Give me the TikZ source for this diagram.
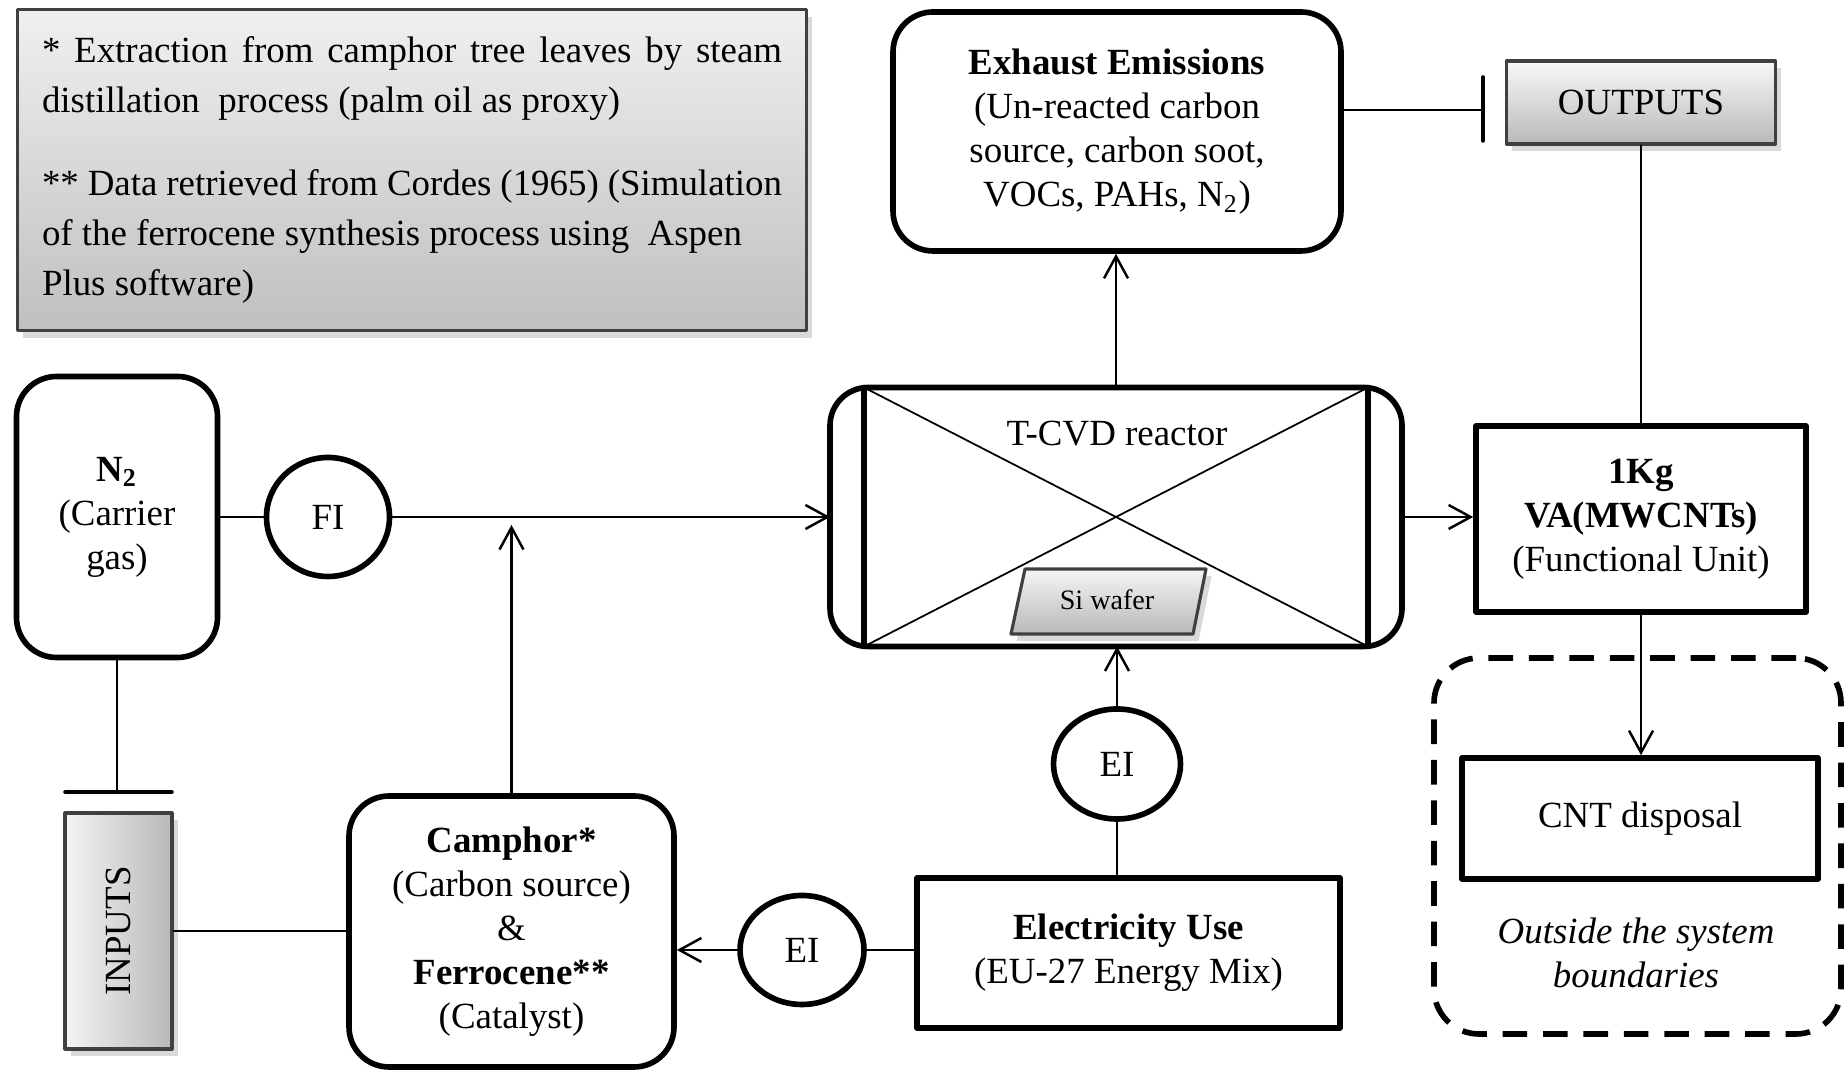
\documentclass[tikz,border=0pt]{standalone}
\usepackage{fontspec}
\setmainfont{Liberation Serif}
\usetikzlibrary{arrows.meta,shapes.geometric,shadows}

\begin{document}
\begin{tikzpicture}[>={Straight Barb[length=2.2mm,width=2.4mm]},line join=round,line cap=round,
    font=\fontsize{10.5}{12.5}\selectfont,
    rbox/.style={draw,line width=1.6pt,rounded corners=0.4cm,align=center,inner sep=0pt},
    sbox/.style={draw,line width=1.6pt,align=center,inner sep=0pt},
    gbox/.style={draw=black!75,line width=0.9pt,inner sep=0pt,
        drop shadow={shadow xshift=1.6pt,shadow yshift=-2pt,opacity=0.3}},
    meter/.style={draw,ellipse,line width=1.6pt,inner sep=0pt},
    link/.style={line width=0.7pt},
    ]
\useasboundingbox (0,0) rectangle (18.48,10.72);
\node[gbox,top color=gray!12,bottom color=gray!50,minimum width=7.89cm,minimum height=3.21cm,
      text width=7.4cm,align=justify,font=\fontsize{10.5}{14.2}\selectfont] (note) at (4.12,9.02)
    {\noindent * Extraction from camphor tree leaves by steam\linebreak distillation\ \ process (palm oil as proxy)\\[9.6pt]
     ** Data retrieved from Cordes (1965) (Simulation\\of the ferrocene synthesis process using\ \ Aspen\\Plus software)};
\node[rbox,minimum width=4.48cm,minimum height=2.39cm] (exhaust) at (11.17,9.405)
    {\textbf{Exhaust Emissions}\\(Un-reacted carbon\\source, carbon soot,\\VOCs, PAHs, N\textsubscript{2})};
\node[gbox,top color=gray!5,bottom color=gray!55,minimum width=2.69cm,minimum height=0.83cm] (outputs) at (16.41,9.695) {OUTPUTS};
\node[rbox,minimum width=2.01cm,minimum height=2.81cm] (n2) at (1.17,5.55) {\textbf{N\textsubscript{2}}\\(Carrier\\gas)};
\node[meter,minimum width=1.23cm,minimum height=1.19cm] (fi) at (3.28,5.55) {FI};
\node[draw,line width=1.6pt,outer sep=0pt,rounded corners=0.38cm,minimum width=5.72cm,minimum height=2.59cm] (reactor) at (11.16,5.55) {};
\draw[line width=1.6pt] ([xshift=0.34cm]reactor.north west) -- ([xshift=0.34cm]reactor.south west);
\draw[line width=1.6pt] ([xshift=-0.34cm]reactor.north east) -- ([xshift=-0.34cm]reactor.south east);
\draw[line width=0.5pt] ([xshift=0.34cm]reactor.north west) -- ([xshift=-0.34cm]reactor.south east);
\draw[line width=0.5pt] ([xshift=0.34cm]reactor.south west) -- ([xshift=-0.34cm]reactor.north east);
\node (tcvd) at (11.17,6.38) {T-CVD reactor};
\path[gbox,top color=gray!8,bottom color=gray!55] (10.11,4.38) -- (11.93,4.38) -- (12.06,5.03) -- (10.25,5.03) -- cycle;
\node[font=\fontsize{8}{9}\selectfont] (wafer) at (11.07,4.72) {Si wafer};
\node[sbox,minimum width=3.30cm,minimum height=1.86cm] (kg) at (16.41,5.53) {\textbf{1Kg}\\\textbf{VA(MWCNTs)}\\(Functional Unit)};
\node[draw,line width=1.6pt,line cap=butt,dash pattern=on 7pt off 4.5pt,rounded corners=0.45cm,
      minimum width=4.07cm,minimum height=3.76cm] (bound) at (16.375,2.26) {};
\node[sbox,minimum width=3.56cm,minimum height=1.21cm] (cnt) at (16.40,2.535) {CNT disposal};
\node[align=center,font=\fontsize{10.5}{12.5}\selectfont\itshape] (outside) at (16.36,1.195) {Outside the system\\boundaries};
\node[meter,minimum width=1.27cm,minimum height=1.10cm] (eiup) at (11.17,3.08) {EI};
\node[sbox,minimum width=4.23cm,minimum height=1.50cm] (elec) at (11.285,1.19) {\textbf{Electricity Use}\\(EU-27 Energy Mix)};
\node[meter,minimum width=1.24cm,minimum height=1.09cm] (eilow) at (8.02,1.22) {EI};
\node[rbox,minimum width=3.25cm,minimum height=2.71cm] (camphor) at (5.115,1.405)
    {\textbf{Camphor*}\\(Carbon source)\\\&\\\textbf{Ferrocene**}\\(Catalyst)};
\node[gbox,left color=gray!8,right color=gray!55,minimum width=1.07cm,minimum height=2.36cm] (inputs) at (1.185,1.41) {\rotatebox{90}{INPUTS}};
\coordinate (merge) at (5.115,5.47);
\coordinate (obar) at (14.83,9.62);
\coordinate (ibar) at (1.17,2.80);
\draw[link] (n2) -- (fi);
\draw[link,->] (fi) -- (reactor);
\draw[link,->] (camphor.north) -- (merge);
\draw[link,->] (reactor.north) -- (reactor.north |- exhaust.south);
\draw[link] (obar -| exhaust.east) -- (obar);
\draw[line width=1pt] ([yshift=0.33cm]obar) -- ([yshift=-0.31cm]obar);
\draw[link] (outputs.south) -- (kg.north);
\draw[link,->] (reactor.east) -- (reactor.east -| kg.west);
\draw[link,->] (kg.south) -- (kg.south |- cnt.north);
\draw[link] (elec.north -| eiup) -- (eiup);
\draw[link,->] (eiup) -- (eiup |- reactor.south);
\draw[link] (elec.west |- eilow) -- (eilow);
\draw[link,->] (eilow) -- (eilow -| camphor.east);
\draw[link] (inputs.east) -- (inputs.east -| camphor.west);
\draw[link] (n2.south) -- (ibar);
\draw[line width=1pt] ([xshift=-0.52cm]ibar) -- ([xshift=0.55cm]ibar);
\end{tikzpicture}
\end{document}
